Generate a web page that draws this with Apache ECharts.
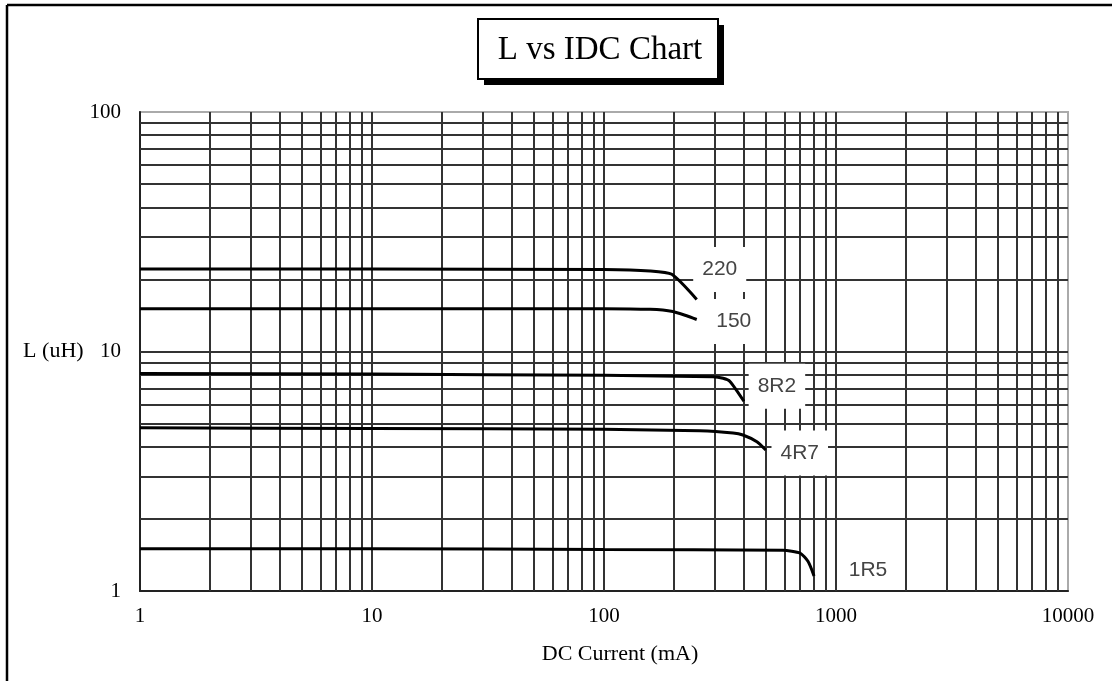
<!DOCTYPE html>
<html>
<head>
<meta charset="utf-8">
<script src="https://cdn.jsdelivr.net/npm/echarts@6/dist/echarts.min.js"></script>
<style>
html,body{margin:0;padding:0;background:#fff;}
#chart{width:1112px;height:681px;}
</style>
</head>
<body>
<div id="chart"></div>
<script>
// Curve data: [DC current (mA), inductance (uH)]
const curve220 = [[1,22.1],[10,22.1],[100,22.0],[158,21.7],[196,21.0],[251,16.5]];
const curve150 = [[1,15.1],[10,15.1],[100,15.1],[158,15.0],[198,14.7],[227,14.1],[251,13.6]];
const curve8R2 = [[1,8.1],[10,8.05],[100,7.95],[295,7.85],[326,7.73],[349,7.5],[401,6.2]];
const curve4R7 = [[1,4.8],[10,4.77],[100,4.73],[259,4.67],[360,4.57],[397,4.48],[456,4.2],[498,3.88]];
const curve1R5 = [[1,1.5],[10,1.5],[100,1.49],[591,1.48],[700,1.44],[757,1.33],[804,1.155]];
const seriesNames = ['220','150','8R2','4R7','1R5'];

// Grid line values
const xGridValues = [2,3,4,5,6,7,8,9,10,20,30,40,50,60,70,80,90,100,200,300,400,500,600,700,800,900,1000,2000,3000,4000,5000,6000,7000,8000,9000];
const yGridValues = [2,3,4,5,6,7,8,9,10,20,30,40,50,60,70,80,90];
const xTickLabels = ['1','10','100','1000','10000'];
const yTickLabels = ['1','10','100'];

const chart = echarts.init(document.getElementById('chart'));

const serif = 'Liberation Serif';
const labelOffsets = [[23,-30],[37,2],[33,-15],[34,3],[54,-6]];
const labelPaddings = [[12,9],[12,9],[12,9],[12,9],[6,9]];
const curves = [curve220, curve150, curve8R2, curve4R7, curve1R5];

const curveSeries = curves.map((d, i) => ({
  name: seriesNames[i],
  type: 'line',
  data: d,
  z: 3,
  smooth: 0.2,
  showSymbol: false,
  symbol: 'none',
  lineStyle: {color: '#000', width: 3},
  endLabel: {
    show: true,
    formatter: seriesNames[i],
    distance: 0,
    align: 'center',
    verticalAlign: 'middle',
    offset: labelOffsets[i],
    fontFamily: 'Liberation Sans',
    fontSize: 21,
    color: '#444',
    backgroundColor: '#fff',
    padding: labelPaddings[i]
  }
}));

const gridSeries = {
  type: 'line',
  data: [],
  z: 1,
  markLine: {
    silent: true,
    z: 1,
    symbol: ['none','none'],
    label: {show: false},
    lineStyle: {color: '#333', width: 2, type: 'solid'},
    emphasis: {disabled: true},
    data: xGridValues.map(v => ({xAxis: v})).concat(yGridValues.map(v => ({yAxis: v})))
  }
};

chart.setOption({
  animation: false,
  grid: {left: 140, right: 44, top: 112, bottom: 90, show: true, borderColor: '#aaa', borderWidth: 2, backgroundColor: 'transparent'},
  graphic: [
    {type: 'line', shape: {x1: 7, y1: 5, x2: 7, y2: 681}, style: {stroke: '#000', lineWidth: 2.5}},
    {type: 'line', shape: {x1: 7, y1: 5, x2: 1112, y2: 5}, style: {stroke: '#000', lineWidth: 2.5}},
    {type: 'rect', shape: {x: 484, y: 25, width: 240, height: 60}, style: {fill: '#000'}},
    {type: 'rect', shape: {x: 478, y: 19, width: 240, height: 60}, style: {fill: '#fff', stroke: '#000', lineWidth: 2}},
    {type: 'text', style: {text: 'L vs IDC Chart', x: 600, y: 50, align: 'center', verticalAlign: 'middle', font: '33px "Liberation Serif"', fill: '#000'}}
  ],
  xAxis: {
    type: 'log',
    logBase: 10,
    min: 1,
    max: 10000,
    name: 'DC Current (mA)',
    nameLocation: 'middle',
    nameGap: 52,
    nameTextStyle: {fontFamily: serif, fontSize: 22, color: '#000', padding: [0,0,0,32]},
    axisLine: {show: true, lineStyle: {color: '#222', width: 2}},
    axisTick: {show: false},
    splitLine: {show: false},
    minorTick: {show: false},
    axisLabel: {
      fontFamily: serif, fontSize: 21, color: '#000', margin: 15,
      formatter: v => { const s = String(Math.round(v)); return xTickLabels.indexOf(s) >= 0 ? s : ''; }
    }
  },
  yAxis: {
    type: 'log',
    logBase: 10,
    min: 1,
    max: 100,
    name: 'L (uH)',
    nameLocation: 'middle',
    nameRotate: 0,
    nameGap: 52,
    nameTextStyle: {fontFamily: serif, fontSize: 22, color: '#000'},
    axisLine: {show: true, lineStyle: {color: '#222', width: 2}},
    axisTick: {show: false},
    splitLine: {show: false},
    minorTick: {show: false},
    axisLabel: {
      fontFamily: serif, fontSize: 21, color: '#000', margin: 19,
      formatter: v => { const s = String(Math.round(v)); return yTickLabels.indexOf(s) >= 0 ? s : ''; }
    }
  },
  series: [gridSeries].concat(curveSeries)
});
</script>
</body>
</html>
